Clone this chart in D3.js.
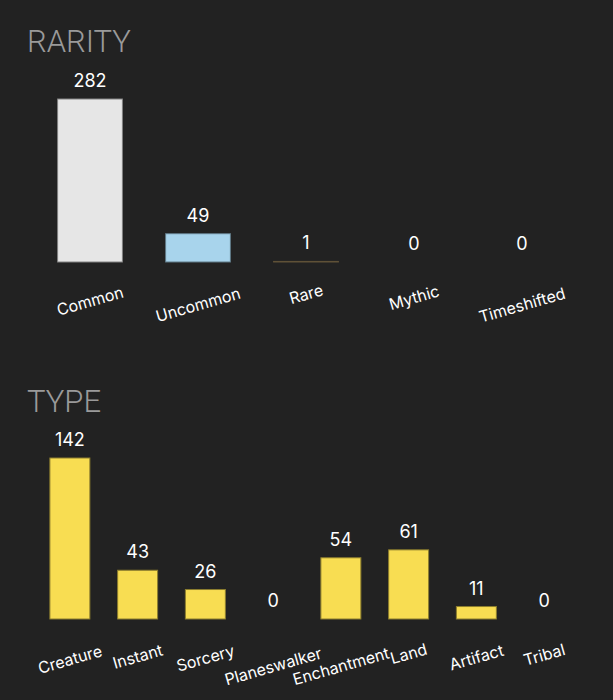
<!DOCTYPE html>
<html>
<head>
<meta charset="utf-8">
<script src="https://cdn.jsdelivr.net/npm/d3@7"></script>
<style>
  body { margin: 0; background: #222222; }
  svg { display: block; }
</style>
</head>
<body>
<svg id="canvas"></svg>
<script>
// rarity chart data
const rarityNames = ['Common', 'Uncommon', 'Rare', 'Mythic', 'Timeshifted']
const rarityCounts = [282, 49, 1, 0, 0]
const rarityColors = ['#e6e6e6', '#a8d4ec', '#a89062', '#e07b39', '#b07cc6']

// type chart data
const typeNames = ['Creature', 'Instant', 'Sorcery', 'Planeswalker', 'Enchantment', 'Land', 'Artifact', 'Tribal']
const typeCounts = [142, 43, 26, 0, 54, 61, 11, 0]

let width = 613
let height = 700

const svg = d3.select('#canvas')
    .attr('width', width)
    .attr('height', height)

function drawChart(opts) {
    const g = svg.append('g')

    g.append('text')
        .attr('x', 27)
        .attr('y', opts.titleY)
        .attr('fill', '#9a9a9a')
        .style('font-family', 'Roboto')
        .style('font-weight', 300)
        .style('font-size', '31px')
        .text(opts.title)

    const xScale = d3.scaleBand()
        .domain(opts.names)
        .range([opts.left, opts.right])
        .paddingInner(opts.pad)
        .paddingOuter(opts.pad / 2)

    const yScale = d3.scaleLinear()
        .domain([0, d3.max(opts.counts)])
        .range([opts.base, opts.top])

    const data = opts.names.map((n, i) => ({ name: n, value: opts.counts[i], color: opts.colors[i] }))

    g.selectAll('rect')
        .data(data)
        .enter()
        .append('rect')
        .attr('x', d => xScale(d.name))
        .attr('width', xScale.bandwidth())
        .attr('y', d => yScale(d.value))
        .attr('height', d => opts.base - yScale(d.value))
        .attr('fill', d => d.color)
        .attr('stroke', d => d3.color(d.color).darker(1.6))
        .attr('stroke-width', 1)
        .style('display', d => d.value > 0 ? null : 'none')

    g.selectAll('.val')
        .data(data)
        .enter()
        .append('text')
        .attr('class', 'val')
        .attr('x', d => xScale(d.name) + xScale.bandwidth() / 2)
        .attr('y', d => yScale(d.value) - 12)
        .attr('text-anchor', 'middle')
        .attr('fill', '#ffffff')
        .style('font-family', 'Inter')
        .style('font-size', '18px')
        .text(d => d.value)

    const labels = g.selectAll('.lbl')
        .data(data)
        .enter()
        .append('text')
        .attr('class', 'lbl')
        .attr('text-anchor', 'middle')
        .attr('dominant-baseline', 'central')
        .attr('fill', '#ffffff')
        .style('font-family', 'Inter')
        .style('font-size', '16px')
        .text(d => d.name)

    labels.each(function (d) {
        const w = this.getComputedTextLength()
        const cx = xScale(d.name) + xScale.bandwidth() / 2
        const cy = opts.labelY + 0.2 * w
        d3.select(this)
            .attr('x', cx)
            .attr('y', cy)
            .attr('transform', 'rotate(-16,' + cx + ',' + cy + ')')
    })
}

drawChart({
    title: 'RARITY', titleY: 52,
    names: rarityNames, counts: rarityCounts, colors: rarityColors,
    left: 36, right: 576, pad: 0.4, base: 262, top: 99, labelY: 287
})

drawChart({
    title: 'TYPE', titleY: 412,
    names: typeNames, counts: typeCounts, colors: typeNames.map(() => '#f8dd52'),
    left: 36, right: 578, pad: 0.41, base: 619, top: 458, labelY: 646
})
</script>
</body>
</html>
